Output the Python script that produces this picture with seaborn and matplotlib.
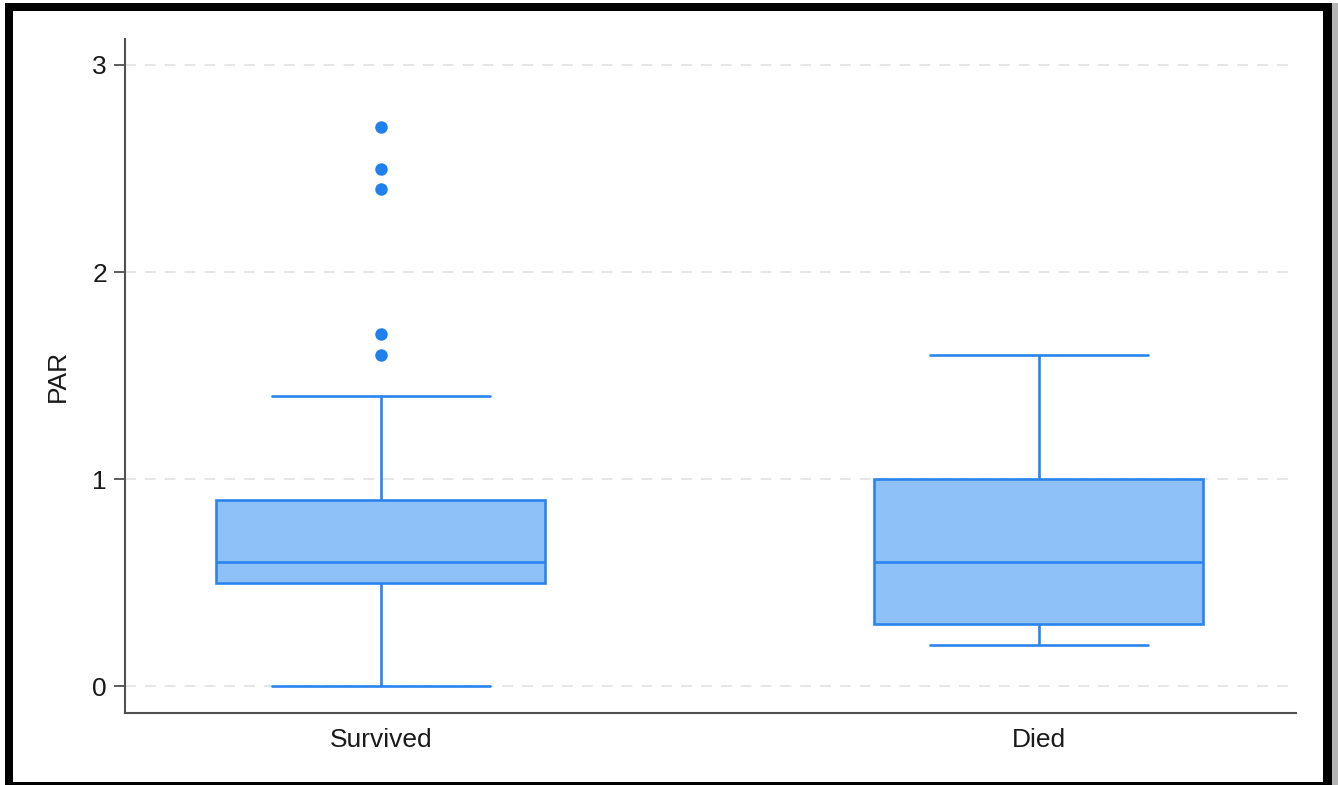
import matplotlib
matplotlib.use("Agg")
import matplotlib.pyplot as plt
import seaborn as sns
import pandas as pd
from matplotlib.patches import Rectangle

# Outcome groups and PAR observations per group
groups = ["Survived", "Died"]
par_survived = [0.0, 0.2, 0.3, 0.4, 0.4, 0.5, 0.5, 0.5, 0.5, 0.6, 0.6, 0.6, 0.6,
                0.7, 0.7, 0.8, 0.8, 0.9, 0.9, 1.4, 1.6, 1.7, 2.4, 2.5, 2.7]
par_died = [0.2, 0.3, 0.3, 0.5, 0.6, 0.8, 1.0, 1.2, 1.6]
y_ticks = [0, 1, 2, 3]

df = pd.DataFrame({
    "outcome": [groups[0]] * len(par_survived) + [groups[1]] * len(par_died),
    "PAR": par_survived + par_died,
})

BOX_FILL = "#8fc1f9"
BOX_EDGE = "#2a84ee"
W, H = 1338, 785

sns.set_theme(style="white")
plt.rcParams["font.family"] = ["Liberation Sans", "DejaVu Sans"]

fig = plt.figure(figsize=(W / 100, H / 100), dpi=100)
fig.patch.set_facecolor("white")
ax = fig.add_axes([125 / W, 1 - 713 / H, (1296 - 125) / W, (713 - 39) / H])

sns.boxplot(
    data=df, x="outcome", y="PAR", order=groups,
    color=BOX_FILL, saturation=1, linecolor=BOX_EDGE, linewidth=1.9,
    width=0.5, fliersize=9, capwidths=0.33,
    flierprops=dict(marker="o", markerfacecolor="#1f80f0",
                    markeredgecolor="#1f80f0", markeredgewidth=0),
    ax=ax,
)

ax.set_xlim(-0.389, 1.3906)
ax.set_ylim(-0.1304, 3.1256)
ax.set_yticks(y_ticks)
ax.set_yticklabels([str(t) for t in y_ticks])
ax.set_xlabel("")
ax.set_ylabel("PAR", fontsize=19, color="#1a1a1a", labelpad=16)

ax.yaxis.grid(True, linestyle=(0, (6, 5)), color="#e4e4e4", linewidth=1.3)
ax.xaxis.grid(False)
ax.set_axisbelow(True)

for side in ("top", "right"):
    ax.spines[side].set_visible(False)
for side in ("left", "bottom"):
    ax.spines[side].set_color("#505050")
    ax.spines[side].set_linewidth(1.5)

ax.tick_params(axis="y", left=True, length=8, width=1.3, color="#505050",
               pad=5, labelsize=19, labelcolor="#1a1a1a")
ax.tick_params(axis="x", bottom=False, length=0, pad=11,
               labelsize=19, labelcolor="#1a1a1a")


def frame_band(x0, y0, x1, y1, color):
    # rectangle given in pixel coordinates measured from the top-left corner
    fig.add_artist(Rectangle((x0 / W, 1 - y1 / H), (x1 - x0) / W, (y1 - y0) / H,
                             transform=fig.transFigure, facecolor=color,
                             edgecolor="none", zorder=10))


# Black picture frame around the chart
frame_band(5, 3, 1332, 11, "black")      # top
frame_band(5, 3, 13, 785, "black")       # left
frame_band(1323, 3, 1332, 785, "black")  # right
frame_band(5, 782, 1332, 785, "black")   # bottom
frame_band(1332, 3, 1338, 785, "#b4b4b4")

fig.savefig("out.png", dpi=100)
